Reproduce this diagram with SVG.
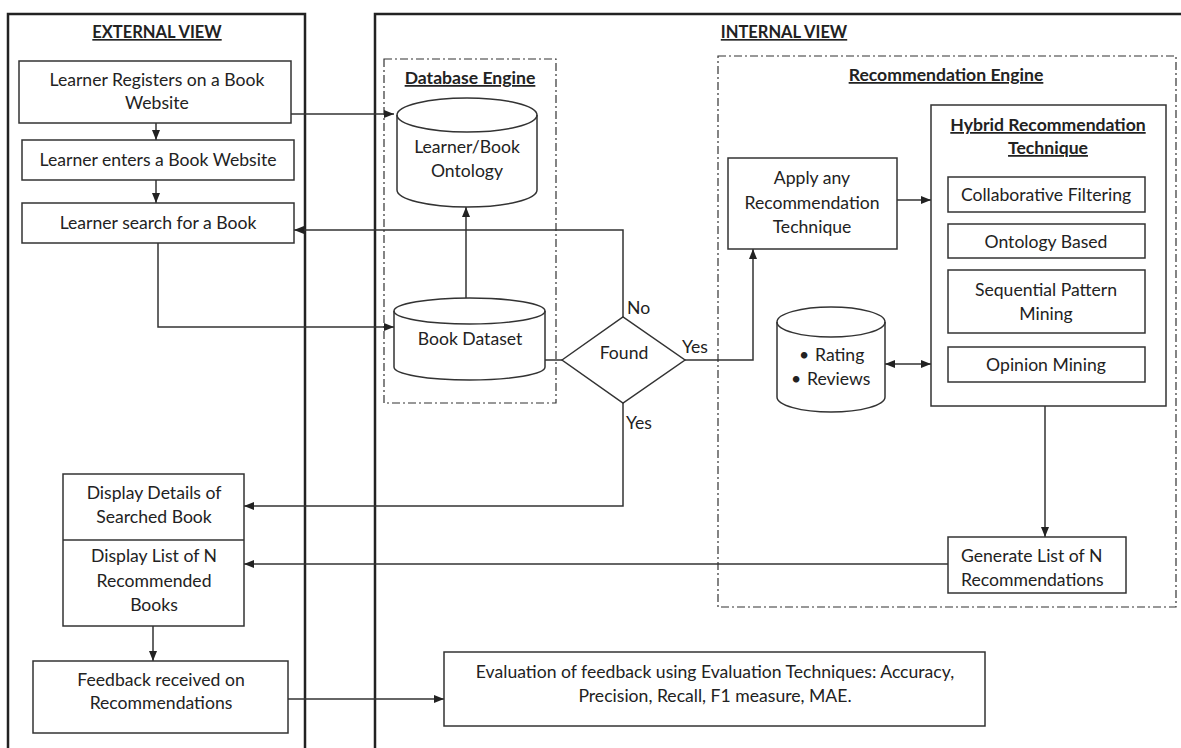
<svg xmlns="http://www.w3.org/2000/svg" width="1181" height="748" viewBox="0 0 1181 748">
<defs>
<style>
text{font-family:"Lato","Liberation Sans",sans-serif;font-size:17.6px;fill:#222;}
.c{text-anchor:middle;}
.t{font-weight:bold;text-decoration:underline;font-size:17.6px;}
.v{font-size:16.5px;}
.box{fill:#fff;stroke:#333;stroke-width:1.5;}
.view{fill:none;stroke:#222;stroke-width:2.5;}
.dash{fill:none;stroke:#333;stroke-width:1.2;stroke-dasharray:8 3 2 3;}
.cn{fill:none;stroke:#333;stroke-width:1.5;}
</style>
<marker id="ah" markerUnits="userSpaceOnUse" markerWidth="10" markerHeight="10" viewBox="0 0 10 10" refX="10" refY="5" orient="auto">
<path d="M0,1 L10,5 L0,9 Z" fill="#222"/>
</marker>
<marker id="as" markerUnits="userSpaceOnUse" markerWidth="10" markerHeight="10" viewBox="0 0 10 10" refX="0" refY="5" orient="auto">
<path d="M10,1 L0,5 L10,9 Z" fill="#222"/>
</marker>
</defs>
<rect width="1181" height="748" fill="#fff"/>

<g id="external-view">
<rect class="view" x="8" y="14" width="297" height="760"/>
<text class="c t v" x="157" y="38">EXTERNAL VIEW</text>
</g>
<g id="internal-view">
<rect class="view" x="375" y="14" width="820" height="760"/>
<text class="c t v" x="784" y="38">INTERNAL VIEW</text>
</g>

<g id="database-engine">
<rect class="dash" x="384" y="59" width="172" height="344"/>
<text class="c t" x="470" y="84">Database Engine</text>
</g>
<g id="recommendation-engine">
<rect class="dash" x="718" y="56" width="458" height="551"/>
<text class="c t" x="946" y="81">Recommendation Engine</text>
</g>

<g id="connectors">
<path class="cn" d="M291,114 H394" marker-end="url(#ah)"/>
<path class="cn" d="M156,123 V140" marker-end="url(#ah)"/>
<path class="cn" d="M156,180 V203" marker-end="url(#ah)"/>
<path class="cn" d="M158,243 V327 H394" marker-end="url(#ah)"/>
<path class="cn" d="M466,298 V207" marker-end="url(#ah)"/>
<path class="cn" d="M545,360 H562"/>
<path class="cn" d="M623,317 V230 H294" marker-end="url(#ah)"/>
<path class="cn" d="M685,360 H753 V249" marker-end="url(#ah)"/>
<path class="cn" d="M623,403 V506 H244" marker-end="url(#ah)"/>
<path class="cn" d="M897,200 H931" marker-end="url(#ah)"/>
<path class="cn" d="M885,364 H931" marker-start="url(#as)" marker-end="url(#ah)"/>
<path class="cn" d="M1045,406 V537" marker-end="url(#ah)"/>
<path class="cn" d="M948,564 H244" marker-end="url(#ah)"/>
<path class="cn" d="M153,626 V661" marker-end="url(#ah)"/>
<path class="cn" d="M288,699 H444" marker-end="url(#ah)"/>
</g>

<g id="registers">
<rect class="box" x="19" y="61" width="272" height="62"/>
<text class="c" x="157" y="86">Learner Registers on a Book</text>
<text class="c" x="157" y="109">Website</text>
</g>
<g id="enters">
<rect class="box" x="22" y="140" width="272" height="40"/>
<text class="c" x="158" y="166">Learner enters a Book Website</text>
</g>
<g id="search">
<rect class="box" x="22" y="203" width="272" height="40"/>
<text class="c" x="158" y="229">Learner search for a Book</text>
</g>

<g id="ontology">
<path class="box" d="M397,115 A70,17 0 0 1 537,115 V190 A70,17 0 0 1 397,190 Z"/>
<path class="cn" d="M397,115 A70,17 0 0 0 537,115"/>
<text class="c" x="467" y="153">Learner/Book</text>
<text class="c" x="467" y="177">Ontology</text>
</g>
<g id="book-dataset">
<path class="box" d="M394,311 A75.5,13 0 0 1 545,311 V367 A75.5,13 0 0 1 394,367 Z"/>
<path class="cn" d="M394,311 A75.5,13 0 0 0 545,311"/>
<text class="c" x="470" y="345">Book Dataset</text>
</g>

<g id="found">
<path class="box" d="M562,360 L623,317 L685,360 L623,403 Z"/>
<text class="c" x="624" y="359">Found</text>
<text x="627" y="314">No</text>
<text x="682" y="353">Yes</text>
<text x="626" y="429">Yes</text>
</g>

<g id="apply">
<rect class="box" x="728" y="158" width="169" height="91"/>
<text class="c" x="812" y="184">Apply any</text>
<text class="c" x="812" y="209">Recommendation</text>
<text class="c" x="812" y="233">Technique</text>
</g>

<g id="hybrid">
<rect class="box" x="931" y="105" width="235" height="301"/>
<text class="c t" x="1048" y="131">Hybrid Recommendation</text>
<text class="c t" x="1048" y="154">Technique</text>
</g>
<g id="collaborative">
<rect class="box" x="948" y="177" width="197" height="35"/>
<text class="c" x="1046" y="201">Collaborative Filtering</text>
</g>
<g id="ontology-based">
<rect class="box" x="948" y="224" width="197" height="34"/>
<text class="c" x="1046" y="248">Ontology Based</text>
</g>
<g id="sequential">
<rect class="box" x="948" y="270" width="197" height="63"/>
<text class="c" x="1046" y="296">Sequential Pattern</text>
<text class="c" x="1046" y="320">Mining</text>
</g>
<g id="opinion">
<rect class="box" x="948" y="347" width="197" height="35"/>
<text class="c" x="1046" y="371">Opinion Mining</text>
</g>

<g id="rating-reviews">
<path class="box" d="M777,322 A54,15 0 0 1 885,322 V397 A54,15 0 0 1 777,397 Z"/>
<path class="cn" d="M777,322 A54,15 0 0 0 885,322"/>
<text x="799" y="361">•</text>
<text x="815" y="361">Rating</text>
<text x="791" y="385">•</text>
<text x="807" y="385">Reviews</text>
</g>

<g id="generate">
<rect class="box" x="948" y="537" width="178" height="56"/>
<text x="961" y="562">Generate List of N</text>
<text x="961" y="586">Recommendations</text>
</g>

<g id="display">
<rect class="box" x="63" y="474" width="181" height="152"/>
<line class="cn" x1="63" y1="540" x2="244" y2="540"/>
<text class="c" x="154" y="499">Display Details of</text>
<text class="c" x="154" y="523">Searched Book</text>
<text class="c" x="154" y="562">Display List of N</text>
<text class="c" x="154" y="587">Recommended</text>
<text class="c" x="154" y="611">Books</text>
</g>

<g id="feedback">
<rect class="box" x="33" y="661" width="255" height="72"/>
<text class="c" x="161" y="686">Feedback received on</text>
<text class="c" x="161" y="709">Recommendations</text>
</g>

<g id="evaluation">
<rect class="box" x="444" y="652" width="541" height="74"/>
<text class="c" x="715" y="678">Evaluation of feedback using Evaluation Techniques: Accuracy,</text>
<text class="c" x="715" y="702">Precision, Recall, F1 measure, MAE.</text>
</g>
</svg>
